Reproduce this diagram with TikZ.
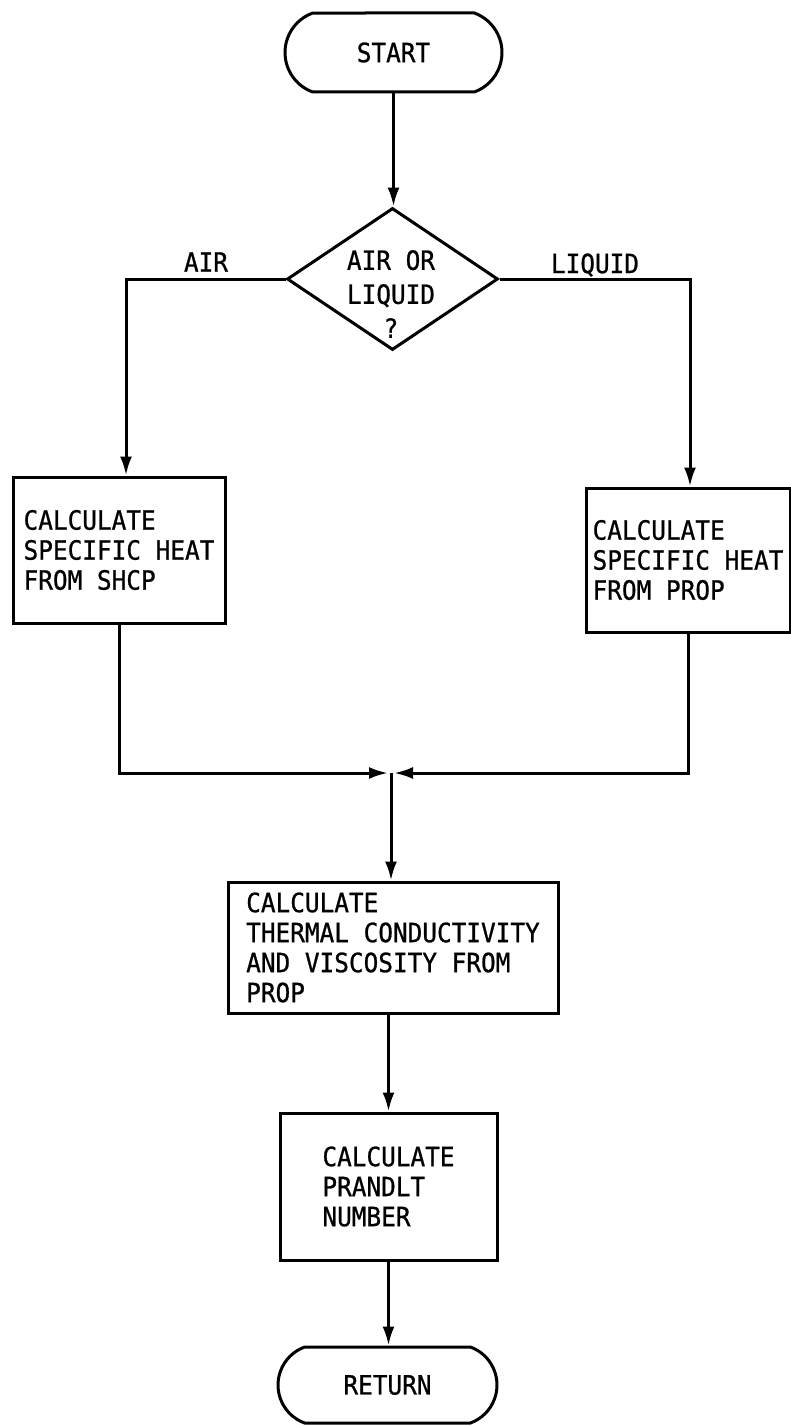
\documentclass[tikz,border=0pt]{standalone}
\usepackage{fontspec}
\newfontfamily\lett[FakeStretch=0.92,FakeBold=0.8]{DejaVu Sans Mono}
\usetikzlibrary{shapes.geometric,shapes.misc,arrows.meta}
\begin{document}
\begin{tikzpicture}[x=1pt,y=-1pt,
  every node/.style={font=\lett\fontsize{26.5}{30}\selectfont},
  ln/.style={line width=3pt},
  arr/.style={ln,-{Latex[length=19pt,width=12pt]}},
  term/.style={draw,ln,rounded rectangle,rounded rectangle arc length=140,inner sep=0pt},
  proc/.style={draw,ln,rectangle,align=left,inner sep=0pt},
  decis/.style={draw,ln,diamond,inner sep=0pt,minimum width=211pt,minimum height=142pt},
  lbl/.style={inner sep=0pt}
]
\useasboundingbox (0,0) rectangle (790,1426);
\fill[white] (0,0) rectangle (790,1426);

\node[term,minimum width=217pt,minimum height=79pt] (start) at (393.5,52.5) {START};
\node[decis] (dec) at (392.5,279) {};
\node[lbl,align=center,font=\lett\fontsize{26.5}{34}\selectfont] (dtxt) at (391,294) {AIR OR\\LIQUID\\?};
\node[lbl] (air) at (206,262) {AIR};
\node[lbl] (liq) at (595,265) {LIQUID};

\node[proc,minimum width=212pt,minimum height=146pt] (lbox) at (119,550)
  {CALCULATE\\SPECIFIC HEAT\\FROM SHCP};
\node[proc,minimum width=204pt,minimum height=144pt] (rbox) at (688,560)
  {CALCULATE\\SPECIFIC HEAT\\FROM PROP};
\node[proc,minimum width=330pt,minimum height=131pt] (mbox) at (393,947.5)
  {CALCULATE\\THERMAL CONDUCTIVITY\\AND VISCOSITY FROM\\PROP};
\node[proc,minimum width=217pt,minimum height=147pt] (pbox) at (388.5,1186.5)
  {CALCULATE\\PRANDLT\\NUMBER};
\node[term,minimum width=219pt,minimum height=76pt] (ret) at (387.5,1385) {RETURN};

\coordinate (j) at (391,773);

\draw[arr] (start.south) -- (start.south |- dec.north);
\draw[arr] (dec.west) -| ([xshift=7pt]lbox.north);
\draw[arr] (dec.east) -| ([xshift=2pt]rbox.north);
\draw[arr,shorten >=3pt] (lbox.south) |- (j);
\draw[arr,shorten >=3pt] (rbox.south) |- (j);
\draw[arr] (j) -- (j |- mbox.north);
\draw[arr] (pbox.north |- mbox.south) -- (pbox.north);
\draw[arr] (pbox.south) -- (pbox.south |- ret.north);
\end{tikzpicture}
\end{document}
